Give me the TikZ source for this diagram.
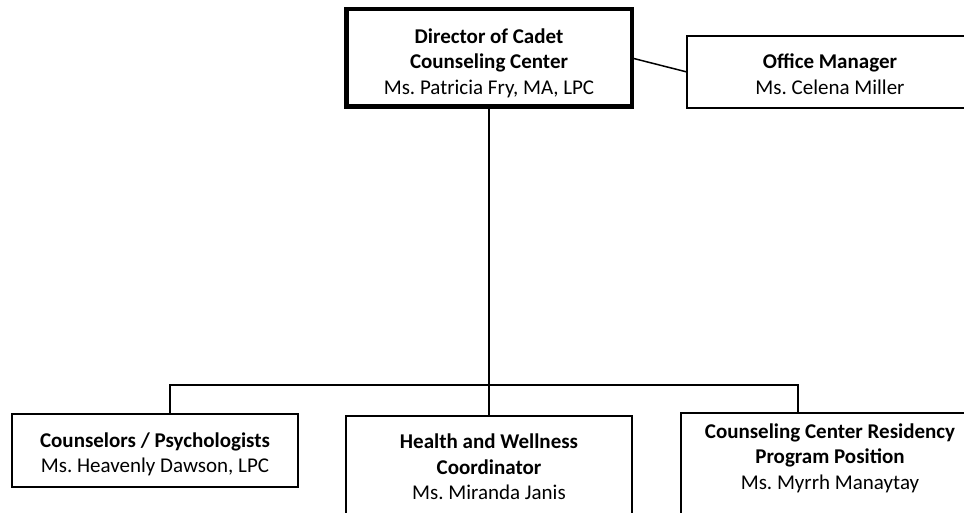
\documentclass[tikz,border=0pt]{standalone}
\usepackage{fontspec}
\setmainfont{Carlito}
\begin{document}
\frenchspacing
\begin{tikzpicture}[x=1pt,y=1pt,
  box/.style={draw=black, line width=1.3pt, rectangle, inner sep=0pt, outer sep=0pt, minimum width=286pt},
  topbox/.style={draw=black, line width=4.5pt, rectangle, inner sep=0pt, outer sep=0pt},
  lbl/.style={align=center, inner sep=0pt, font=\fontsize{21}{25.5}\selectfont},
  conn/.style={draw=black, line width=1.5pt}]
\clip (0,0) rectangle (964,512);
\useasboundingbox (0,0) rectangle (964,512);
% boxes
\node[topbox, minimum width=285.5pt, minimum height=97.5pt] (dir) at (489,454) {};
\node[box, minimum height=72pt] (off) at (830,440) {};
\node[box, minimum height=73pt] (lft) at (155,61.5) {};
\node[box, minimum height=103pt] (mid) at (489,44.5) {};
\node[box, minimum width=298pt, minimum height=104pt] (rgt) at (830,47) {};
% labels
\node[lbl] (dirt) at (489,449) {\textbf{Director of Cadet}\\\textbf{Counseling Center}\\Ms. Patricia Fry, MA, LPC};
\node[lbl] (offt) at (830,438) {\textbf{Office Manager}\\Ms. Celena Miller};
\node[lbl] (lftt) at (155,57.5) {\textbf{Counselors / Psychologists}\\Ms. Heavenly Dawson, LPC};
\node[lbl] (midt) at (489,45) {\textbf{Health and Wellness}\\\textbf{Coordinator}\\Ms. Miranda Janis};
\node[lbl] (rgtt) at (830,54) {\textbf{Counseling Center Residency}\\\textbf{Program Position}\\Ms. Myrrh Manaytay};
% connectors
\coordinate (busL) at (170,127);
\coordinate (busR) at (798,127);
\draw[conn] (dir.east) -- (off.west);
\draw[conn] (dir.south) -- (dir.south |- busL);
\draw[conn] (busL |- lft.north) -- (busL) -- (busR) -- (busR |- rgt.north);
\draw[conn] (mid.north) -- (mid.north |- busL);
\end{tikzpicture}
\end{document}
